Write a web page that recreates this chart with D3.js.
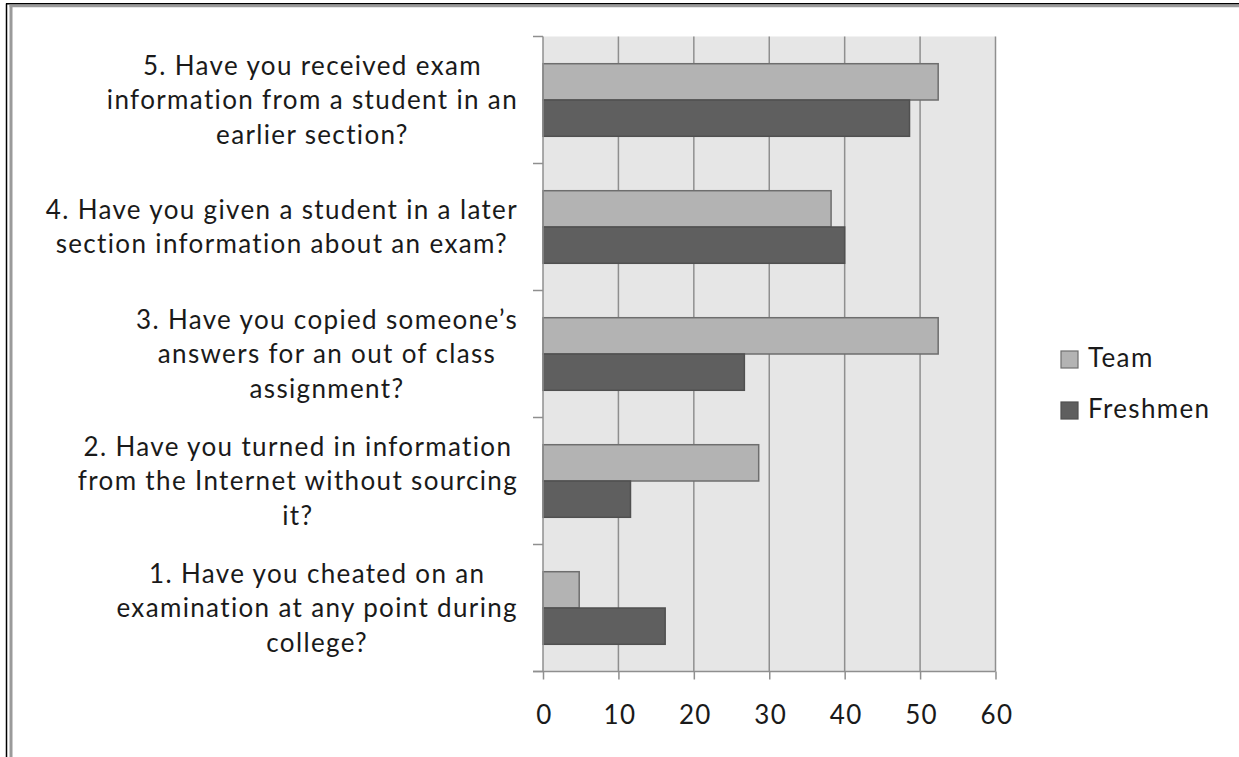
<!DOCTYPE html>
<html>
<head>
<meta charset="utf-8">
<script src="https://cdn.jsdelivr.net/npm/d3@7"></script>
<style>
  html, body { margin: 0; padding: 0; background: #fff; }
  svg { display: block; }
  text { font-family: Lato, "Open Sans", sans-serif; fill: #1a1a1a; letter-spacing: 1.35px; }
</style>
</head>
<body>
<svg id="chart" width="1239" height="757"></svg>
<script>
// ---- data ----
const categories = [
  "1. Have you cheated on an\nexamination at any point during\ncollege?",
  "2. Have you turned in information\nfrom the Internet without sourcing\nit?",
  "3. Have you copied someone\u2019s\nanswers for an out of class\nassignment?",
  "4. Have you given a student in a later\nsection information about an exam?",
  "5. Have you received exam\ninformation from a student in an\nearlier section?"
];
const seriesNames = ["Team", "Freshmen"];
const teamValues = [4.8, 28.6, 52.4, 38.2, 52.4];
const freshmenValues = [16.2, 11.6, 26.7, 40.0, 48.6];
const xTickValues = [0, 10, 20, 30, 40, 50, 60];

// ---- layout ----
const W = 1239, H = 757;
const plot = { left: 543, right: 995.5, top: 36.5, bottom: 671.5 };
const fontSize = 26;
const colors = { Team: "#b3b3b3", Freshmen: "#5f5f5f" };
const strokes = { Team: "#6e6e6e", Freshmen: "#505050" };

const svg = d3.select("#chart");

// frame
svg.append("line").attr("x1", 6.5).attr("x2", 6.5).attr("y1", 3.5).attr("y2", H)
  .attr("stroke", "#000").attr("stroke-width", 1.5);
svg.append("line").attr("x1", 6).attr("x2", W).attr("y1", 3.8).attr("y2", 3.8)
  .attr("stroke", "#000").attr("stroke-width", 1.5);
svg.append("line").attr("x1", 11).attr("x2", 11).attr("y1", 5).attr("y2", H)
  .attr("stroke", "#9a9a9a").attr("stroke-width", 3);
svg.append("line").attr("x1", 9.5).attr("x2", W).attr("y1", 6).attr("y2", 6)
  .attr("stroke", "#9a9a9a").attr("stroke-width", 2.5);

// scales
const x = d3.scaleLinear().domain([0, 60]).range([plot.left, plot.right]);
const catOrder = categories.map((c, i) => i).reverse(); // 5 at top
const y = d3.scaleBand().domain(catOrder).range([plot.top, plot.bottom]).padding(0);
const ySub = d3.scaleBand().domain(seriesNames).range([0, y.bandwidth()])
  .paddingInner(0).paddingOuter(0.75);

// plot background
svg.append("rect")
  .attr("x", x(0)).attr("y", plot.top)
  .attr("width", x(60) - x(0)).attr("height", plot.bottom - plot.top)
  .attr("fill", "#e6e6e6");

// gridlines
svg.append("g").selectAll("line")
  .data(xTickValues.filter(v => v > 0))
  .join("line")
  .attr("x1", d => x(d)).attr("x2", d => x(d))
  .attr("y1", plot.top).attr("y2", plot.bottom)
  .attr("stroke", "#8f8f8f").attr("stroke-width", 1.5);

// bars
const rows = catOrder.map(i => ({
  i,
  vals: [{ s: "Team", v: teamValues[i] }, { s: "Freshmen", v: freshmenValues[i] }]
}));
const g = svg.append("g");
rows.forEach(r => {
  g.selectAll(null).data(r.vals).join("rect")
    .attr("x", x(0))
    .attr("y", d => y(r.i) + ySub(d.s))
    .attr("width", d => x(d.v) - x(0))
    .attr("height", ySub.bandwidth())
    .attr("fill", d => colors[d.s])
    .attr("stroke", d => strokes[d.s])
    .attr("stroke-width", 1.5);
});

// x axis
const xAxis = d3.axisBottom(x).tickValues(xTickValues).tickSize(8).tickPadding(26).tickSizeOuter(0);
const xg = svg.append("g").attr("transform", `translate(0,${plot.bottom})`).call(xAxis);
xg.select(".domain").attr("stroke", "#8f8f8f").attr("stroke-width", 1.5)
  .attr("d", `M${x(0) - 10},0H${x(60)}`);
xg.selectAll(".tick line").attr("stroke", "#8f8f8f").attr("stroke-width", 1.5);
xg.selectAll(".tick text").style("font-size", fontSize + "px").attr("fill", "#1a1a1a")
  .style("font-family", "Lato, sans-serif").attr("dx", "1px");

// y axis
const yg = svg.append("g");
yg.append("line").attr("x1", x(0)).attr("x2", x(0)).attr("y1", plot.top).attr("y2", plot.bottom)
  .attr("stroke", "#8f8f8f").attr("stroke-width", 1.5);
const boundaries = catOrder.map(i => y(i)).concat([plot.bottom]);
yg.selectAll("line.tk").data(boundaries).join("line").attr("class", "tk")
  .attr("x1", x(0) - 10).attr("x2", x(0))
  .attr("y1", d => d).attr("y2", d => d)
  .attr("stroke", "#8f8f8f").attr("stroke-width", 1.5);

// category labels
const labelRight = 518;
const lineH = 34.2;
catOrder.forEach(i => {
  const lines = categories[i].split("\n");
  const tg = svg.append("g");
  const texts = tg.selectAll("text").data(lines).join("text")
    .style("font-size", fontSize + "px")
    .attr("text-anchor", "middle")
    .text(d => d);
  let maxW = 0;
  texts.each(function () { maxW = Math.max(maxW, this.getComputedTextLength()); });
  const cx = labelRight - maxW / 2;
  const cy = y(i) + y.bandwidth() / 2;
  const n = lines.length;
  texts.attr("x", cx)
    .attr("y", (d, k) => cy + (k - (n - 1) / 2) * lineH)
    .attr("dy", "0.36em");
});

// legend
const legend = svg.append("g");
seriesNames.forEach((s, k) => {
  const ly = 351 + k * 51;
  legend.append("rect").attr("x", 1061).attr("y", ly).attr("width", 17).attr("height", 17)
    .attr("fill", colors[s]).attr("stroke", strokes[s]).attr("stroke-width", 1.2);
  legend.append("text").attr("x", 1088).attr("y", ly + 16)
    .style("font-size", fontSize + "px").text(s);
});
</script>
</body>
</html>
